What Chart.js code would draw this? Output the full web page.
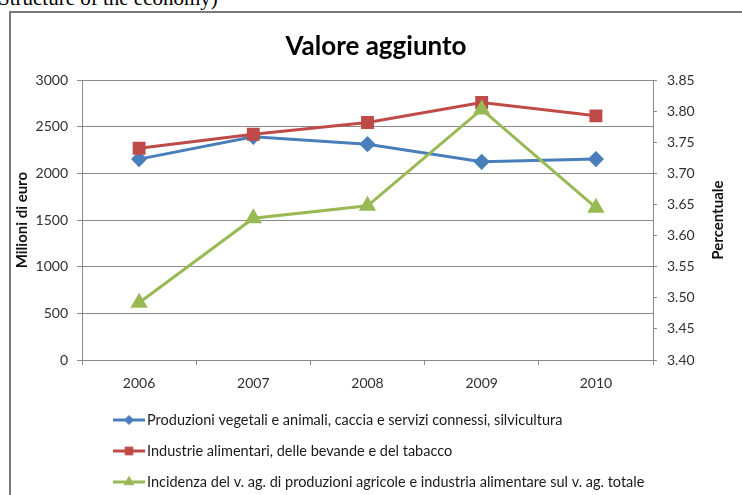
<!DOCTYPE html>
<html>
<head>
<meta charset="utf-8">
<script src="https://cdn.jsdelivr.net/npm/chart.js@4/dist/chart.umd.min.js"></script>
<style>
  html,body{margin:0;padding:0;background:#fff;overflow:hidden;width:742px;height:495px;}
  #header{position:absolute;left:-2px;top:-14px;font-family:"Liberation Serif","DejaVu Serif",serif;font-size:21px;color:#000;white-space:nowrap;}
  #frame{position:absolute;left:9px;top:11px;width:800px;height:600px;border:2px solid #7a7a7a;box-sizing:border-box;}
  #c{position:absolute;left:0;top:0;}
</style>
</head>
<body>
<div id="header">Structure of the economy)</div>
<div id="frame"></div>
<canvas id="c" width="742" height="495"></canvas>
<script>
// values
const years = ['2006', '2007', '2008', '2009', '2010'];
const agricoltura = [2154, 2393, 2314, 2125, 2154];     // Milioni di euro
const alimentari = [2271, 2421, 2546, 2761, 2618];      // Milioni di euro
const incidenza = [3.492, 3.628, 3.648, 3.803, 3.645];  // Percentuale

const labels = [
  'Produzioni vegetali e animali, caccia e servizi connessi, silvicultura',
  'Industrie alimentari, delle bevande e del tabacco',
  'Incidenza del v. ag. di produzioni agricole e industria alimentare sul v. ag. totale'
];

const FONT = 'Lato, "Open Sans", sans-serif';
const GRID = '#8a8a8a';
const TXT = '#303030';

// draws the right axis title (reads bottom-up) and the stacked legend
const extras = {
  id: 'extras',
  afterDraw(chart){
    const ctx = chart.ctx;
    const ca = chart.chartArea;
    ctx.save();
    ctx.fillStyle = '#111';
    ctx.font = 'bold 15px ' + FONT;
    ctx.textAlign = 'center';
    ctx.textBaseline = 'middle';
    ctx.translate(718, (ca.top + ca.bottom) / 2);
    ctx.rotate(-Math.PI / 2);
    ctx.fillText('Percentuale', 0, 0);
    ctx.restore();

    chart.data.datasets.forEach((ds, i) => {
      const y = 420 + i * 31;
      ctx.save();
      ctx.strokeStyle = ds.borderColor;
      ctx.lineWidth = 3;
      ctx.beginPath();
      ctx.moveTo(113, y);
      ctx.lineTo(145, y);
      ctx.stroke();
      ctx.fillStyle = ds.pointBackgroundColor;
      ctx.strokeStyle = ds.pointBorderColor;
      ctx.lineWidth = 1;
      Chart.helpers.drawPoint(ctx, {
        pointStyle: ds.pointStyle, radius: ds.pointRadius - 1.5, rotation: 0, borderWidth: 1
      }, 129, y);
      ctx.fillStyle = '#1a1a1a';
      ctx.font = '14.5px ' + FONT;
      ctx.textAlign = 'left';
      ctx.textBaseline = 'middle';
      ctx.fillText(ds.label, 147, y);
      ctx.restore();
    });
  }
};

function series(label, data, color, style, radius, axis, order){
  return {
    label, data, yAxisID: axis, order,
    borderColor: color, backgroundColor: color,
    pointBackgroundColor: color, pointBorderColor: color,
    pointStyle: style, pointRadius: radius, pointHoverRadius: radius,
    borderWidth: 3, tension: 0, fill: false
  };
}

new Chart(document.getElementById('c'), {
  type: 'line',
  data: {
    labels: years,
    datasets: [
      series(labels[0], agricoltura, '#4a7ebb', 'rectRot', 6, 'y', 3),
      series(labels[1], alimentari, '#be4b48', 'rect', 7, 'y', 2),
      series(labels[2], incidenza, '#98b954', 'triangle', 7, 'y1', 1)
    ]
  },
  options: {
    responsive: false,
    animation: false,
    devicePixelRatio: 1,
    layout: {padding: {left: 10, right: 0, top: 12, bottom: 95}},
    plugins: {
      legend: {display: false},
      tooltip: {enabled: false},
      title: {
        display: true,
        text: 'Valore aggiunto',
        color: '#000',
        font: {family: FONT, size: 26, weight: 'bold'},
        padding: {top: 19, bottom: 18}
      }
    },
    scales: {
      x: {
        offset: true,
        grid: {offset: true, drawOnChartArea: false, color: GRID, tickLength: 5},
        border: {color: GRID},
        ticks: {color: TXT, font: {family: FONT, size: 14}, padding: 10},
        afterFit: s => { s.height = 40; }
      },
      y: {
        position: 'left',
        min: 0, max: 3000,
        ticks: {stepSize: 500, color: TXT, font: {family: FONT, size: 14}, padding: 9,
                callback: v => String(v)},
        grid: {color: GRID, tickLength: 5},
        border: {color: GRID},
        title: {display: true, text: 'Milioni di euro', color: '#111',
                font: {family: FONT, size: 15, weight: 'bold'}, padding: {top: 3, bottom: 0}},
        afterFit: s => { s.width = 72; }
      },
      y1: {
        position: 'right',
        min: 3.4, max: 3.85,
        ticks: {stepSize: 0.05, color: TXT, font: {family: FONT, size: 14}, padding: 10,
                callback: v => v.toFixed(2)},
        grid: {drawOnChartArea: false, color: GRID, tickLength: 4},
        border: {color: GRID},
        afterFit: s => { s.width = 89; }
      }
    }
  },
  plugins: [extras]
});
</script>
</body>
</html>
